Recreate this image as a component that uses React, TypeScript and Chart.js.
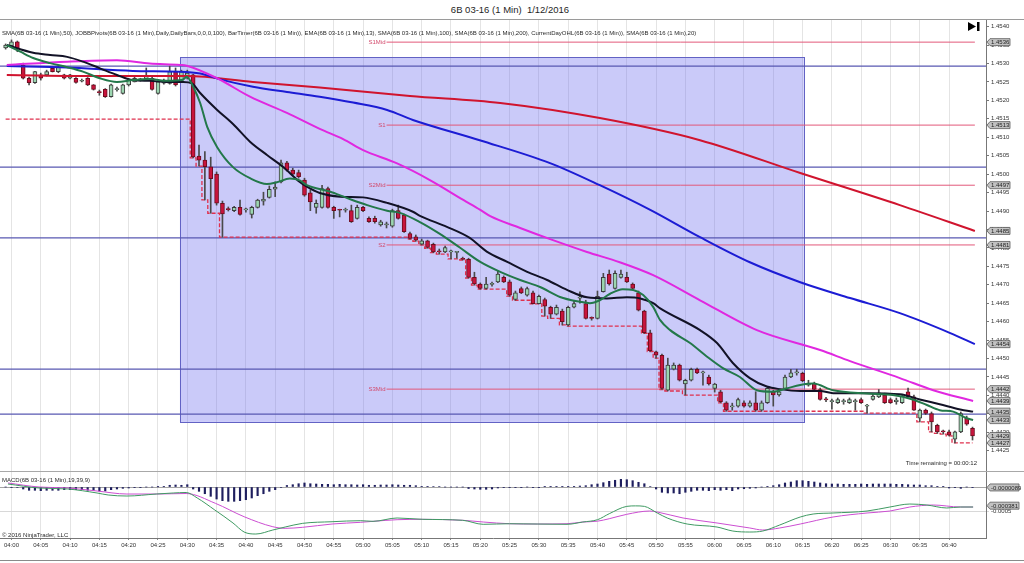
import React, { useEffect, useRef } from 'react';
import { Chart, registerables } from 'chart.js';

Chart.register(...registerables);

const FONT = "'Liberation Sans', Arial, sans-serif";

// ---------- DATA ----------
// bar index = minutes after 04:00 (first bar is 03:59)
const firstBar = -1;
const opens = [1.45342,1.45348,1.45359,1.45296,1.45260,1.45248,1.45269,1.45269,1.45287,1.45278,1.45269,1.45260,1.45260,1.45252,1.45260,1.45242,1.45222,1.45230,1.45210,1.45229,1.45219,1.45242,1.45250,1.45256,1.45259,1.45260,1.45219,1.45247,1.45246,1.45278,1.45255,1.45260,1.45269,1.45049,1.45038,1.45020,1.45000,1.44921,1.44905,1.44901,1.44910,1.44903,1.44891,1.44910,1.44927,1.44937,1.44959,1.44979,1.45031,1.45011,1.45004,1.44984,1.44949,1.44910,1.44910,1.44961,1.44910,1.44903,1.44902,1.44901,1.44880,1.44910,1.44880,1.44880,1.44862,1.44862,1.44859,1.44901,1.44889,1.44839,1.44830,1.44810,1.44819,1.44810,1.44790,1.44789,1.44789,1.44788,1.44770,1.44769,1.44720,1.44702,1.44690,1.44701,1.44708,1.44720,1.44708,1.44660,1.44690,1.44672,1.44678,1.44649,1.44660,1.44639,1.44620,1.44629,1.44591,1.44639,1.44664,1.44649,1.44610,1.44609,1.44681,1.44729,1.44690,1.44720,1.44720,1.44702,1.44678,1.44629,1.44570,1.44518,1.44509,1.44414,1.44471,1.44482,1.44431,1.44441,1.44471,1.44461,1.44450,1.44419,1.44410,1.44380,1.44369,1.44371,1.44380,1.44371,1.44380,1.44360,1.44380,1.44410,1.44401,1.44419,1.44450,1.44461,1.44460,1.44428,1.44433,1.44416,1.44389,1.44383,1.44380,1.44383,1.44380,1.44383,1.44389,1.44371,1.44389,1.44396,1.44401,1.44389,1.44383,1.44380,1.44410,1.44396,1.44338,1.44360,1.44351,1.44319,1.44302,1.44301,1.44281,1.44301,1.44338,1.44311];
const highs = [1.45353,1.45364,1.45361,1.45301,1.45263,1.45279,1.45274,1.45282,1.45290,1.45293,1.45271,1.45271,1.45262,1.45258,1.45262,1.45243,1.45228,1.45232,1.45244,1.45236,1.45244,1.45258,1.45263,1.45260,1.45288,1.45263,1.45255,1.45258,1.45293,1.45288,1.45282,1.45282,1.45271,1.45079,1.45061,1.45046,1.45006,1.44927,1.44911,1.44913,1.44930,1.44908,1.44913,1.44932,1.44951,1.44968,1.44979,1.45038,1.45035,1.45016,1.45011,1.44989,1.44957,1.44930,1.44970,1.44965,1.44913,1.44905,1.44908,1.44916,1.44916,1.44913,1.44884,1.44886,1.44875,1.44870,1.44905,1.44916,1.44892,1.44843,1.44835,1.44824,1.44821,1.44813,1.44797,1.44805,1.44794,1.44791,1.44775,1.44772,1.44734,1.44705,1.44720,1.44707,1.44738,1.44724,1.44713,1.44683,1.44694,1.44694,1.44683,1.44672,1.44664,1.44642,1.44645,1.44634,1.44642,1.44658,1.44681,1.44658,1.44613,1.44683,1.44731,1.44740,1.44738,1.44740,1.44734,1.44705,1.44683,1.44631,1.44577,1.44520,1.44512,1.44501,1.44488,1.44485,1.44444,1.44474,1.44474,1.44466,1.44455,1.44433,1.44414,1.44383,1.44379,1.44393,1.44385,1.44385,1.44410,1.44385,1.44423,1.44414,1.44417,1.44455,1.44471,1.44471,1.44463,1.44441,1.44436,1.44420,1.44395,1.44390,1.44393,1.44390,1.44393,1.44390,1.44393,1.44376,1.44405,1.44416,1.44406,1.44393,1.44393,1.44401,1.44420,1.44401,1.44363,1.44363,1.44355,1.44322,1.44306,1.44306,1.44303,1.44355,1.44344,1.44314];
const lows = [1.45339,1.45346,1.45332,1.45258,1.45242,1.45246,1.45255,1.45266,1.45277,1.45275,1.45258,1.45258,1.45247,1.45250,1.45240,1.45228,1.45214,1.45208,1.45209,1.45225,1.45217,1.45239,1.45250,1.45252,1.45256,1.45228,1.45217,1.45244,1.45244,1.45239,1.45252,1.45258,1.45044,1.45022,1.44930,1.44894,1.44916,1.44829,1.44900,1.44898,1.44889,1.44897,1.44881,1.44908,1.44916,1.44935,1.44939,1.44976,1.45008,1.44997,1.44989,1.44940,1.44901,1.44894,1.44908,1.44908,1.44880,1.44884,1.44897,1.44869,1.44878,1.44898,1.44869,1.44867,1.44859,1.44854,1.44856,1.44878,1.44842,1.44824,1.44818,1.44808,1.44799,1.44787,1.44783,1.44787,1.44770,1.44772,1.44767,1.44718,1.44699,1.44688,1.44688,1.44696,1.44706,1.44706,1.44669,1.44658,1.44676,1.44669,1.44648,1.44648,1.44615,1.44609,1.44618,1.44591,1.44588,1.44637,1.44650,1.44607,1.44604,1.44607,1.44680,1.44699,1.44688,1.44718,1.44706,1.44688,1.44629,1.44568,1.44519,1.44501,1.44416,1.44412,1.44469,1.44439,1.44401,1.44439,1.44459,1.44428,1.44428,1.44409,1.44380,1.44357,1.44360,1.44368,1.44368,1.44368,1.44357,1.44357,1.44378,1.44371,1.44398,1.44417,1.44448,1.44455,1.44437,1.44425,1.44414,1.44387,1.44383,1.44363,1.44378,1.44376,1.44378,1.44360,1.44378,1.44352,1.44387,1.44394,1.44378,1.44378,1.44376,1.44378,1.44395,1.44359,1.44328,1.44348,1.44301,1.44297,1.44295,1.44290,1.44271,1.44299,1.44319,1.44279];
const closes = [1.45350,1.45359,1.45341,1.45260,1.45248,1.45278,1.45260,1.45278,1.45278,1.45290,1.45260,1.45269,1.45249,1.45254,1.45242,1.45230,1.45221,1.45210,1.45242,1.45231,1.45242,1.45255,1.45260,1.45258,1.45266,1.45230,1.45250,1.45255,1.45278,1.45242,1.45278,1.45274,1.45047,1.45038,1.45020,1.44988,1.44921,1.44892,1.44904,1.44910,1.44891,1.44904,1.44910,1.44930,1.44932,1.44959,1.44965,1.45031,1.45011,1.45000,1.44993,1.44943,1.44925,1.44921,1.44961,1.44910,1.44901,1.44902,1.44903,1.44871,1.44910,1.44901,1.44871,1.44871,1.44871,1.44865,1.44901,1.44880,1.44844,1.44826,1.44821,1.44819,1.44801,1.44789,1.44789,1.44801,1.44790,1.44790,1.44769,1.44720,1.44702,1.44690,1.44702,1.44702,1.44729,1.44708,1.44672,1.44678,1.44678,1.44690,1.44649,1.44669,1.44642,1.44620,1.44639,1.44600,1.44639,1.44649,1.44665,1.44609,1.44609,1.44669,1.44720,1.44702,1.44731,1.44729,1.44708,1.44690,1.44631,1.44570,1.44521,1.44509,1.44419,1.44482,1.44482,1.44441,1.44441,1.44471,1.44461,1.44462,1.44431,1.44431,1.44383,1.44360,1.44370,1.44389,1.44371,1.44380,1.44360,1.44380,1.44419,1.44401,1.44410,1.44450,1.44461,1.44462,1.44440,1.44433,1.44416,1.44389,1.44388,1.44384,1.44389,1.44384,1.44389,1.44384,1.44380,1.44372,1.44398,1.44407,1.44380,1.44380,1.44387,1.44398,1.44396,1.44360,1.44360,1.44351,1.44328,1.44301,1.44301,1.44292,1.44301,1.44351,1.44322,1.44290];
const priorDayLow = 1.45149;

// moving averages: [minute, price]
const ema13 = [[-0.8,1.4535],[1.5,1.45332],[3.7,1.45315],[6.6,1.45301],[9.5,1.4529],[12.2,1.45278],[15.1,1.4526],[18,1.4525],[20.7,1.45255],[23.6,1.45258],[26.5,1.45253],[29.1,1.45255],[29.9,1.45264],[31,1.45237],[32.2,1.45193],[33.4,1.45128],[35.1,1.45073],[37.8,1.45019],[40.7,1.44989],[43.6,1.44973],[45.3,1.44978],[47.5,1.44988],[49.2,1.44983],[50.4,1.4497],[54.3,1.44953],[57.3,1.44935],[60.7,1.44916],[64.1,1.44901],[66.3,1.44895],[69.7,1.4487],[73.1,1.44838],[76.5,1.44801],[80,1.44762],[83.4,1.44735],[86.8,1.44713],[90.2,1.44694],[93.6,1.44667],[97,1.44654],[98.7,1.4465],[100.4,1.44658],[102.1,1.44675],[104.3,1.44688],[106.1,1.44686],[107.8,1.44672],[109.5,1.4464],[110.7,1.44604],[112.4,1.44577],[115.8,1.44542],[118.7,1.44505],[121.4,1.44474],[124.3,1.4445],[127.2,1.44414],[129.9,1.4441],[132.3,1.44419],[134.6,1.44428],[136.8,1.44432],[140.2,1.44414],[146,1.44405],[150.4,1.44401],[153.8,1.44389],[156.2,1.44374],[158.4,1.4436],[160.7,1.44356],[163,1.44338],[164.1,1.44333]];
const sma20 = [[-0.8,1.4535],[3.7,1.45329],[6.6,1.45323],[9.5,1.45318],[12.2,1.45305],[15.1,1.45287],[18,1.45269],[20.7,1.45255],[23.6,1.45253],[26.5,1.4525],[29.3,1.4525],[30.8,1.45246],[32.2,1.4522],[35.1,1.45174],[37.8,1.45136],[40.7,1.45088],[43.6,1.45052],[46.3,1.4502],[49.2,1.44979],[50.4,1.44966],[52.6,1.44949],[56.1,1.44939],[60,1.44937],[64.1,1.44922],[68.5,1.44898],[69.7,1.44887],[74.3,1.44857],[78.2,1.44827],[81.1,1.4479],[84.6,1.44762],[88,1.44735],[91.4,1.44713],[94.8,1.44686],[98.2,1.44666],[101.6,1.44663],[105,1.44666],[107.3,1.44663],[109.5,1.4465],[110.7,1.44636],[117.5,1.44577],[120.4,1.44542],[123.1,1.44488],[126,1.44447],[128.9,1.44424],[131.1,1.44417],[134.6,1.44412],[138,1.44412],[140.2,1.44406],[146,1.44406],[151.6,1.44403],[155,1.44389],[158.4,1.44376],[161.9,1.44362],[164.1,1.44356]];
const sma50 = [[-0.8,1.45296],[9.5,1.45305],[18,1.45309],[23.6,1.453],[28.8,1.45296],[29.9,1.45294],[35.1,1.4526],[40.7,1.4521],[47,1.45166],[52.7,1.45122],[56.6,1.45095],[60,1.45065],[65.8,1.45029],[71.4,1.44984],[77.1,1.4493],[80,1.44903],[81.7,1.44886],[86.8,1.44854],[92.4,1.44821],[98.2,1.44789],[103.8,1.44761],[109.5,1.44726],[117.5,1.44658],[127.2,1.44577],[138,1.44523],[143.1,1.44493],[151.6,1.44447],[157.3,1.44414],[164.1,1.44385]];
const sma100 = [[-0.8,1.45293],[9.5,1.45289],[20.7,1.4528],[28.8,1.45278],[32.2,1.45273],[35.6,1.45257],[41.2,1.45237],[47,1.45223],[52.6,1.4521],[58.3,1.45194],[64.1,1.45174],[68.5,1.45147],[79.9,1.45092],[91.9,1.4503],[100.4,1.4497],[109,1.44903],[117.5,1.44829],[126,1.44761],[134.6,1.44707],[143.1,1.44664],[151.6,1.44623],[160.2,1.44569],[164.4,1.44539]];
const sma200 = [[-0.8,1.45269],[15.1,1.45266],[29.9,1.45266],[41.2,1.4525],[52.6,1.45235],[68,1.45212],[83.4,1.45193],[100.4,1.45152],[117.5,1.45092],[134.6,1.45003],[151.6,1.44916],[164.4,1.44846]];

const pivotNames = ['S1Mid', 'S1', 'S2Mid', 'S2', 'S3Mid'];
const pivotValues = [1.45358, 1.45133, 1.4497, 1.44808, 1.44417];
const pivotFrom = 64;
const pivotTo = 164.4;

const drawnLevels = [1.45293, 1.45019, 1.44827, 1.44471, 1.44349];
const zoneFrom = 28.75;
const zoneTo = 135.2;
const zoneTop = 1.45317;
const zoneBottom = 1.44328;

const timeLabels = ['04:00','04:05','04:10','04:15','04:20','04:25','04:30','04:35','04:40','04:45','04:50','04:55','05:00','05:05','05:10','05:15','05:20','05:25','05:30','05:35','05:40','05:45','05:50','05:55','06:00','06:05','06:10','06:15','06:20','06:25','06:30','06:35','06:40'];
const priceTicks = [1.4425,1.443,1.4435,1.444,1.4445,1.445,1.4455,1.446,1.4465,1.447,1.4475,1.448,1.4485,1.449,1.4495,1.45,1.4505,1.451,1.4515,1.452,1.4525,1.453,1.4535,1.454];
const priceBadgeValues = [1.45358, 1.45133, 1.4497, 1.44846, 1.44808, 1.44539, 1.44417, 1.44385, 1.44356, 1.44333, 1.4429, 1.44271];
const priceBadgeTexts = ['1.4536', '1.4513', '1.4497', '1.4485', '1.4481', '1.4454', '1.4442', '1.4439', '1.4435', '1.4433', '1.4429', '1.4427'];

// MACD(19,39,9), one histogram value per bar from firstBar
const macdHist = [
  0,-0.6e-5,-1.0e-5,-4.1e-5,-6.7e-5,-6.7e-5,-7.5e-5,-6.7e-5,-6.7e-5,-6.7e-5,
  -5.5e-5,-5.5e-5,-5.5e-5,-5.5e-5,-6.7e-5,-6.7e-5,-8.2e-5,-8.2e-5,-5.5e-5,-4.1e-5,
  -2.7e-5,-2.0e-5,-1.4e-5,-0.6e-5,0,0,0.4e-5,0.6e-5,3.5e-5,4.1e-5,
  3.5e-5,4.7e-5,-4.1e-5,-8.8e-5,-13.7e-5,-19.0e-5,-24.5e-5,-27.9e-5,-29.2e-5,-29.2e-5,
  -27.9e-5,-25.9e-5,-22.4e-5,-17.7e-5,-13.7e-5,-8.8e-5,-5.5e-5,-1.0e-5,3.1e-5,4.7e-5,
  6.7e-5,8.2e-5,6.7e-5,6.1e-5,5.5e-5,5.5e-5,4.7e-5,5.5e-5,4.7e-5,4.7e-5,
  4.1e-5,4.7e-5,3.5e-5,3.5e-5,4.1e-5,4.1e-5,4.7e-5,4.1e-5,3.5e-5,3.5e-5,
  2.7e-5,1.4e-5,1.4e-5,1.0e-5,1.0e-5,0,0,0,0,-3.1e-5,
  -4.1e-5,-4.7e-5,-4.7e-5,-4.1e-5,-2.0e-5,-1.4e-5,-1.4e-5,-1.4e-5,-1.4e-5,0,
  -0.6e-5,-0.6e-5,0.6e-5,0.6e-5,0.6e-5,0.6e-5,1.4e-5,1.4e-5,2.0e-5,2.7e-5,
  4.7e-5,6.1e-5,8.8e-5,11.6e-5,13.7e-5,15.7e-5,14.9e-5,12.9e-5,9.6e-5,6.7e-5,
  1.0e-5,-4.1e-5,-10.8e-5,-12.2e-5,-12.2e-5,-13.7e-5,-10.8e-5,-8.8e-5,-6.7e-5,-6.7e-5,
  -7.5e-5,-5.5e-5,-6.7e-5,-5.5e-5,-7.5e-5,-4.1e-5,-3.5e-5,-2.7e-5,-2.0e-5,0,
  1.4e-5,2.7e-5,4.7e-5,8.2e-5,10.2e-5,12.9e-5,12.9e-5,11.6e-5,10.2e-5,8.2e-5,
  6.7e-5,6.1e-5,6.1e-5,5.5e-5,5.5e-5,5.5e-5,6.1e-5,5.5e-5,6.1e-5,6.1e-5,
  6.1e-5,6.1e-5,5.5e-5,5.5e-5,4.7e-5,4.1e-5,4.1e-5,2.7e-5,2.7e-5,1.4e-5,
  1.4e-5,-2.0e-5,-1.4e-5,-2.7e-5,0,-0.6e-5
];
const macdLine = [[-0.6,6.1e-5],[4.7,-2.0e-5],[9.6,-4.1e-5],[14.6,-12.2e-5],[16.5,-16.3e-5],[19.7,-18.4e-5],[24.7,-14.3e-5],[27.6,-12.2e-5],[29.8,-11.2e-5],[31.7,-22.4e-5],[34.7,-46.9e-5],[37.8,-73.4e-5],[39.7,-91.8e-5],[41.7,-95.9e-5],[44.6,-87.7e-5],[46.7,-81.6e-5],[49.7,-74.1e-5],[54.7,-70.8e-5],[59.6,-68.7e-5],[61.7,-70.0e-5],[65.8,-63.2e-5],[70.2,-65.9e-5],[77,-67.9e-5],[80.5,-76.1e-5],[85,-74.9e-5],[89.7,-75.5e-5],[94.8,-76.1e-5],[97.5,-71.4e-5],[100,-66.7e-5],[102,-54.5e-5],[105,-39.5e-5],[106.5,-38.5e-5],[108,-39.5e-5],[110.2,-53.0e-5],[111.9,-63.2e-5],[115.3,-75.5e-5],[120.4,-81.6e-5],[123.1,-89.8e-5],[126,-91.8e-5],[128.2,-89.8e-5],[131.1,-77.5e-5],[134.6,-61.2e-5],[136.8,-55.1e-5],[140.2,-53.0e-5],[146,-49.0e-5],[149.9,-40.8e-5],[153.3,-34.7e-5],[156.2,-36.7e-5],[159.6,-42.8e-5],[161.9,-40.8e-5],[164.1,-40.8e-5]];
const macdSignal = [[-0.6,8.2e-5],[4.7,0],[9.6,-2.0e-5],[14.6,-8.2e-5],[19.7,-14.3e-5],[24.7,-14.3e-5],[29.8,-13.3e-5],[34.8,-33.3e-5],[39.7,-60.6e-5],[44.6,-81.0e-5],[46.7,-84.3e-5],[49.7,-82.2e-5],[54.7,-75.5e-5],[59.6,-72.0e-5],[61.7,-70.0e-5],[65.8,-66.7e-5],[70.2,-65.9e-5],[77,-67.9e-5],[80.5,-71.4e-5],[85,-74.9e-5],[89.7,-75.5e-5],[94.8,-74.9e-5],[97.5,-71.4e-5],[100,-69.7e-5],[102,-64.7e-5],[105,-55.7e-5],[108.9,-49.0e-5],[110.2,-51.0e-5],[114.6,-63.2e-5],[120.4,-73.4e-5],[126,-83.6e-5],[128.2,-87.7e-5],[131.1,-83.6e-5],[134.6,-75.5e-5],[140.2,-61.2e-5],[146,-53.0e-5],[149.9,-49.0e-5],[153.3,-40.8e-5],[157.3,-36.7e-5],[161.9,-40.8e-5],[164.1,-40.8e-5]];
const macdTicks = [0, -0.0005];
const macdBadgeValues = [-0.0000089, -0.000381];
const macdBadgeTexts = ['-0.0000089', '-0.000381'];

// ---------- LAYOUT ----------
const X_MIN = -1.96;
const X_MAX = 166.3;
const Y_MIN = 1.44195;
const Y_MAX = 1.45418;
const M_MIN = -104.0e-5;
const M_MAX = 30.6e-5;
const AXIS_W = 38;

const UP_FILL = '#9cd6b0';
const UP_LINE = '#3c3c3c';
const DN_FILL = '#c8143c';
const DN_LINE = '#6e0c1e';

function pts(arr: number[][]) {
  return arr.map(([x, y]) => ({ x, y }));
}

function drawBadge(ctx: CanvasRenderingContext2D, x: number, y: number, text: string, w: number) {
  const h = 7;
  ctx.save();
  ctx.beginPath();
  ctx.moveTo(x, y);
  ctx.lineTo(x + 3, y - h / 2);
  ctx.lineTo(x + w, y - h / 2);
  ctx.lineTo(x + w, y + h / 2);
  ctx.lineTo(x + 3, y + h / 2);
  ctx.closePath();
  ctx.fillStyle = '#c2c2c2';
  ctx.fill();
  ctx.strokeStyle = '#5a5a5a';
  ctx.lineWidth = 0.8;
  ctx.stroke();
  ctx.fillStyle = '#1e1e1e';
  ctx.font = `6px ${FONT}`;
  ctx.textAlign = 'left';
  ctx.textBaseline = 'middle';
  ctx.fillText(text, x + 4, y + 0.5);
  ctx.restore();
}

const mainDecor = {
  id: 'mainDecor',
  beforeDatasetsDraw(chart: any) {
    const { ctx, scales } = chart;
    const x1 = scales.x.getPixelForValue(zoneFrom);
    const x2 = scales.x.getPixelForValue(zoneTo);
    const y1 = scales.y.getPixelForValue(zoneTop);
    const y2 = scales.y.getPixelForValue(zoneBottom);
    ctx.save();
    ctx.fillStyle = 'rgba(110,110,240,0.37)';
    ctx.fillRect(x1, y1, x2 - x1, y2 - y1);
    ctx.strokeStyle = '#6262c4';
    ctx.lineWidth = 1;
    ctx.strokeRect(Math.round(x1) + 0.5, Math.round(y1) + 0.5, Math.round(x2 - x1), Math.round(y2 - y1));
    ctx.restore();
  },
  afterDraw(chart: any) {
    const { ctx, scales, chartArea } = chart;
    ctx.save();
    ctx.font = `6px ${FONT}`;
    ctx.fillStyle = '#d24a6c';
    ctx.textAlign = 'right';
    ctx.textBaseline = 'middle';
    const px = scales.x.getPixelForValue(pivotFrom);
    pivotNames.forEach((n, k) => {
      ctx.fillText(n, px - 1, scales.y.getPixelForValue(pivotValues[k]));
    });
    ctx.fillStyle = '#2a2a2a';
    ctx.textAlign = 'left';
    ctx.font = `6px ${FONT}`;
    ctx.fillText('SMA(6B 03-16 (1 Min),50), JOBBPivots(6B 03-16 (1 Min),Daily,DailyBars,0,0,0,100), BarTimer(6B 03-16 (1 Min)), EMA(6B 03-16 (1 Min),13), SMA(6B 03-16 (1 Min),100), SMA(6B 03-16 (1 Min),200), CurrentDayOHL(6B 03-16 (1 Min)), SMA(6B 03-16 (1 Min),20)', 2, 13);
    ctx.textAlign = 'right';
    ctx.fillText('Time remaining = 00:00:12', chartArea.right - 9, chartArea.bottom - 8);
    const r = chartArea.right;
    ctx.fillStyle = '#000';
    ctx.beginPath();
    ctx.moveTo(r - 18, 2);
    ctx.lineTo(r - 10, 6.5);
    ctx.lineTo(r - 18, 11);
    ctx.closePath();
    ctx.fill();
    ctx.fillRect(r - 9, 2, 2.5, 9);
    ctx.restore();
    priceBadgeValues.forEach((v, k) => {
      drawBadge(ctx, chartArea.right + 1, scales.y.getPixelForValue(v), priceBadgeTexts[k], 23);
    });
  },
};

const macdDecor = {
  id: 'macdDecor',
  afterDraw(chart: any) {
    const { ctx, scales, chartArea } = chart;
    ctx.save();
    ctx.font = `6px ${FONT}`;
    ctx.fillStyle = '#2a2a2a';
    ctx.textAlign = 'left';
    ctx.textBaseline = 'middle';
    ctx.fillText('MACD(6B 03-16 (1 Min),19,39,9)', 2, 8);
    ctx.fillText('\u00A9 2016 NinjaTrader, LLC', 2, chartArea.bottom - 3);
    ctx.restore();
    macdBadgeValues.forEach((v, k) => {
      drawBadge(ctx, chartArea.right + 1, scales.y.getPixelForValue(v), macdBadgeTexts[k], 32);
    });
  },
};

export default function App() {
  const mainRef = useRef<HTMLCanvasElement | null>(null);
  const macdRef = useRef<HTMLCanvasElement | null>(null);

  useEffect(() => {
    Chart.defaults.font.family = FONT;
    const bars = opens.map((_, k) => firstBar + k);
    let run = priorDayLow;
    const dayLow = lows.map((l, k) => {
      run = Math.min(run, l);
      return { x: bars[k], y: run };
    });
    const isUp = opens.map((o, k) => closes[k] >= o);

    const line = (data: any[], color: string, width: number, order: number, extra: any = {}) => ({
      type: 'line',
      data,
      borderColor: color,
      borderWidth: width,
      pointRadius: 0,
      fill: false,
      order,
      ...extra,
    });

    const datasets: any[] = [
      line(pts(ema13), '#23784a', 2, 1, { cubicInterpolationMode: 'monotone' }),
      line(pts(sma20), '#121226', 2, 2, { cubicInterpolationMode: 'monotone' }),
      line(pts(sma50), '#e028e0', 2, 3, { cubicInterpolationMode: 'monotone' }),
      line(pts(sma100), '#1c1cd4', 2, 4, { cubicInterpolationMode: 'monotone' }),
      line(pts(sma200), '#d0142e', 2, 5, { cubicInterpolationMode: 'monotone' }),
      {
        type: 'bar',
        data: bars.map((x, k) => ({ x, y: [opens[k], closes[k]] })),
        backgroundColor: isUp.map((u) => (u ? UP_FILL : DN_FILL)),
        borderColor: isUp.map((u) => (u ? UP_LINE : DN_LINE)),
        borderWidth: 1,
        borderSkipped: false,
        barThickness: 4,
        minBarLength: 1,
        grouped: false,
        order: 6,
      },
      {
        type: 'bar',
        data: bars.map((x, k) => ({ x, y: [lows[k], highs[k]] })),
        backgroundColor: '#4a4a4a',
        barThickness: 1,
        grouped: false,
        order: 7,
      },
      line(dayLow, '#e0304e', 1.3, 8, { stepped: 'middle', borderDash: [4, 2] }),
      ...pivotValues.map((v) =>
        line([{ x: pivotFrom, y: v }, { x: pivotTo, y: v }], '#e2587a', 1, 9)
      ),
      ...drawnLevels.map((v) =>
        line([{ x: X_MIN, y: v }, { x: X_MAX, y: v }], '#5858b2', 1.3, 10)
      ),
    ];

    const mainChart = new Chart(mainRef.current as HTMLCanvasElement, {
      type: 'bar',
      data: { datasets },
      options: {
        animation: false,
        responsive: true,
        maintainAspectRatio: false,
        devicePixelRatio: 1,
        events: [],
        layout: { padding: 0 },
        plugins: { legend: { display: false }, tooltip: { enabled: false }, title: { display: false } },
        scales: {
          x: {
            type: 'linear',
            min: X_MIN,
            max: X_MAX,
            offset: false,
            afterBuildTicks: (s: any) => {
              s.ticks = timeLabels.map((_, k) => ({ value: k * 5 }));
            },
            ticks: { display: false },
            grid: { color: '#e4e4e4', drawTicks: false, offset: false },
            border: { display: false },
            afterFit: (s: any) => {
              s.height = 0;
              s.paddingLeft = 0;
              s.paddingRight = 0;
            },
          },
          y: {
            type: 'linear',
            position: 'right',
            min: Y_MIN,
            max: Y_MAX,
            beginAtZero: false,
            afterBuildTicks: (s: any) => {
              s.ticks = priceTicks.map((v) => ({ value: v }));
            },
            ticks: {
              font: { size: 6, family: FONT },
              color: '#333',
              padding: 2,
              callback: (v: any) => Number(v).toFixed(4),
            },
            grid: { drawOnChartArea: false, drawTicks: true, tickLength: 3, color: '#777' },
            border: { display: true, color: '#777' },
            afterFit: (s: any) => {
              s.width = AXIS_W;
              s.paddingTop = 0;
              s.paddingBottom = 0;
            },
          },
        },
      } as any,
      plugins: [mainDecor],
    } as any);

    const macdChart = new Chart(macdRef.current as HTMLCanvasElement, {
      type: 'bar',
      data: {
        datasets: [
          line(pts(macdLine), '#3f9a62', 1, 1, { cubicInterpolationMode: 'monotone' }),
          line(pts(macdSignal), '#cc4ed2', 1, 2, { cubicInterpolationMode: 'monotone' }),
          {
            type: 'bar',
            data: macdHist.map((v, k) => ({ x: bars[k], y: v })),
            backgroundColor: '#1e1e5e',
            barThickness: 1.5,
            grouped: false,
            order: 3,
          },
        ],
      },
      options: {
        animation: false,
        responsive: true,
        maintainAspectRatio: false,
        devicePixelRatio: 1,
        events: [],
        layout: { padding: 0 },
        plugins: { legend: { display: false }, tooltip: { enabled: false }, title: { display: false } },
        scales: {
          x: {
            type: 'linear',
            min: X_MIN,
            max: X_MAX,
            offset: false,
            afterBuildTicks: (s: any) => {
              s.ticks = timeLabels.map((_, k) => ({ value: k * 5 }));
            },
            ticks: {
              autoSkip: false,
              maxRotation: 0,
              font: { size: 6, family: FONT },
              color: '#333',
              padding: 2,
              callback: (_v: any, idx: number) => timeLabels[idx],
            },
            grid: { color: '#e4e4e4', drawTicks: true, tickLength: 2, tickColor: '#888', offset: false },
            border: { display: true, color: '#777' },
            afterFit: (s: any) => {
              s.height = 25;
              s.paddingLeft = 0;
              s.paddingRight = 0;
            },
          },
          y: {
            type: 'linear',
            position: 'right',
            min: M_MIN,
            max: M_MAX,
            afterBuildTicks: (s: any) => {
              s.ticks = macdTicks.map((v) => ({ value: v }));
            },
            ticks: {
              font: { size: 6, family: FONT },
              color: '#333',
              padding: 2,
              callback: (v: any) => (Number(v) === 0 ? '' : Number(v).toFixed(4)),
            },
            grid: {
              drawOnChartArea: true,
              drawTicks: true,
              tickLength: 3,
              color: (c: any) => (c.tick && c.tick.value === 0 ? '#a4a4a4' : '#d8d8d8'),
            },
            border: { display: true, color: '#777' },
            afterFit: (s: any) => {
              s.width = AXIS_W;
              s.paddingTop = 0;
              s.paddingBottom = 0;
            },
          },
        },
      } as any,
      plugins: [macdDecor],
    } as any);

    return () => {
      mainChart.destroy();
      macdChart.destroy();
    };
  }, []);

  return (
    <div style={{ position: 'fixed', left: 0, top: 0, width: 1024, height: 563, background: '#fff', overflow: 'hidden' }}>
      <div
        style={{
          position: 'absolute',
          left: 0,
          top: 4,
          width: 1020,
          textAlign: 'center',
          fontFamily: FONT,
          fontSize: '9.5px',
          color: '#1e1e1e',
          whiteSpace: 'pre',
        }}
      >
        {'6B 03-16 (1 Min)  1/12/2016'}
      </div>
      <div style={{ position: 'absolute', left: 0, top: 19, width: 1024, height: 1, background: '#9a9a9a' }} />
      <div style={{ position: 'absolute', left: 0, top: 20, width: 1024, height: 451 }}>
        <canvas ref={mainRef} />
      </div>
      <div style={{ position: 'absolute', left: 0, top: 471, width: 1024, height: 1, background: '#a8a8a8' }} />
      <div style={{ position: 'absolute', left: 0, top: 472, width: 1024, height: 91 }}>
        <canvas ref={macdRef} />
      </div>
      <div style={{ position: 'absolute', left: 0, top: 560, width: 1024, height: 1, background: '#8a8a8a' }} />
    </div>
  );
}
